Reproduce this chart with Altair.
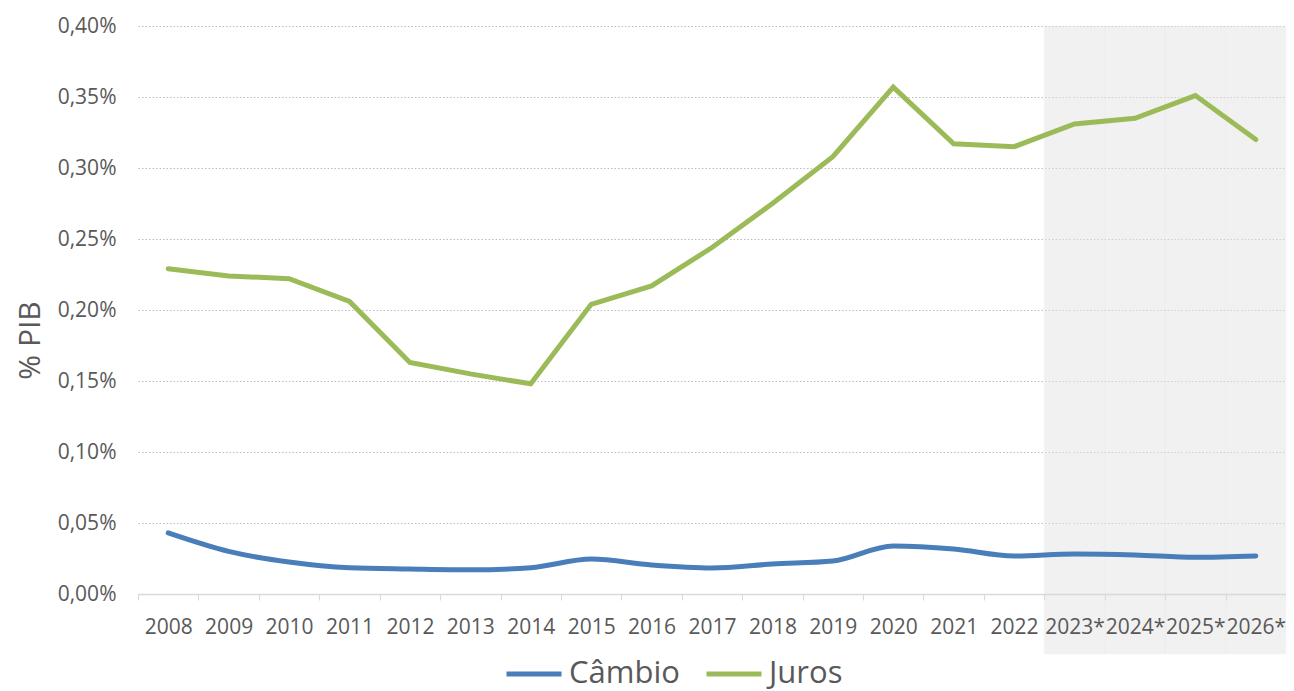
import altair as alt
import pandas as pd

years = ["2008", "2009", "2010", "2011", "2012", "2013", "2014", "2015", "2016",
         "2017", "2018", "2019", "2020", "2021", "2022", "2023*", "2024*", "2025*", "2026*"]
juros = [0.229, 0.224, 0.222, 0.206, 0.163, 0.155, 0.148, 0.204, 0.217, 0.244,
         0.275, 0.308, 0.357, 0.317, 0.315, 0.331, 0.335, 0.351, 0.320]
cambio = [0.043, 0.030, 0.0225, 0.0185, 0.0176, 0.017, 0.0185, 0.0246, 0.0204, 0.0183,
          0.0211, 0.0232, 0.0338, 0.0317, 0.0268, 0.0282, 0.0275, 0.0258, 0.0268]
forecast_years = ["2023*", "2024*", "2025*", "2026*"]
series_names = ["Câmbio", "Juros"]
series_colors = ["#4a7ebb", "#9bbb59"]
y_ticks = [0.0, 0.05, 0.10, 0.15, 0.20, 0.25, 0.30, 0.35, 0.40]

df = pd.DataFrame({
    "ano": years * 2,
    "valor": cambio + juros,
    "serie": ["Câmbio"] * len(years) + ["Juros"] * len(years),
})
df_fc = pd.DataFrame({"ano": forecast_years})

FONT = "Open Sans"
TXT = "#595959"
W, H = 1148, 568

xscale = alt.Scale(type="band", domain=years, paddingInner=0, paddingOuter=0)
yscale = alt.Scale(domain=[0, 0.40], nice=False, zero=True)

xaxis = alt.Axis(title=None, labelAngle=0, tickBand="extent", ticks=True, tickSize=6,
                 tickColor="#d9d9d9", domainColor="#d9d9d9", domainWidth=1.5,
                 labelFont=FONT, labelFontSize=21, labelColor=TXT, labelPadding=16,
                 grid=False, zindex=1, labelOverlap=False)
yaxis = alt.Axis(title="% PIB", values=y_ticks, domain=False, ticks=False, tickSize=0,
                 labelPadding=22, labelFont=FONT, labelFontSize=21, labelColor=TXT,
                 labelExpr="replace(format(datum.value, '.2f'), '.', ',') + '%'",
                 grid=True, gridColor="#bdbdbd", gridDash=[1.5, 2], gridWidth=1,
                 titleFont=FONT, titleFontSize=30, titleFontWeight="normal", titleColor=TXT,
                 titleX=-108, titleY=314, titleAngle=270, titleBaseline="middle", titleAlign="center")

shade = alt.Chart(df_fc).mark_rect(color="#e4e4e4", opacity=0.5, stroke="#e4e4e4",
                                   strokeWidth=0.6, strokeOpacity=0.5).encode(
    x=alt.X("ano:O", scale=xscale, axis=xaxis),
    y=alt.value(0),
    y2=alt.value(H + 60),
)

color = alt.Color("serie:N", scale=alt.Scale(domain=series_names, range=series_colors),
                  legend=alt.Legend(title=None, orient="none", direction="horizontal",
                                    legendX=366, legendY=618, symbolType="stroke",
                                    symbolSize=3025, symbolStrokeWidth=5,
                                    labelFont=FONT, labelFontSize=31, labelColor=TXT,
                                    labelOffset=5, columnPadding=16, symbolOpacity=1))

base = alt.Chart(df).encode(
    x=alt.X("ano:O", scale=xscale, axis=xaxis, bandPosition=0.5),
    y=alt.Y("valor:Q", scale=yscale, axis=yaxis),
    color=color,
)

cambio_line = base.transform_filter(alt.datum.serie == "Câmbio").mark_line(
    strokeWidth=5, interpolate="monotone", strokeCap="round")
juros_line = base.transform_filter(alt.datum.serie == "Juros").mark_line(
    strokeWidth=5, strokeCap="round", strokeJoin="miter")

chart = alt.layer(shade, cambio_line, juros_line).properties(
    width=W, height=H,
    autosize=alt.AutoSizeParams(type="none"),
    padding={"left": 130, "top": 18, "right": 0, "bottom": 97},
    background="white",
).configure_view(stroke=None)

chart.save("out.html", embed_options={"renderer": "svg", "actions": False})
